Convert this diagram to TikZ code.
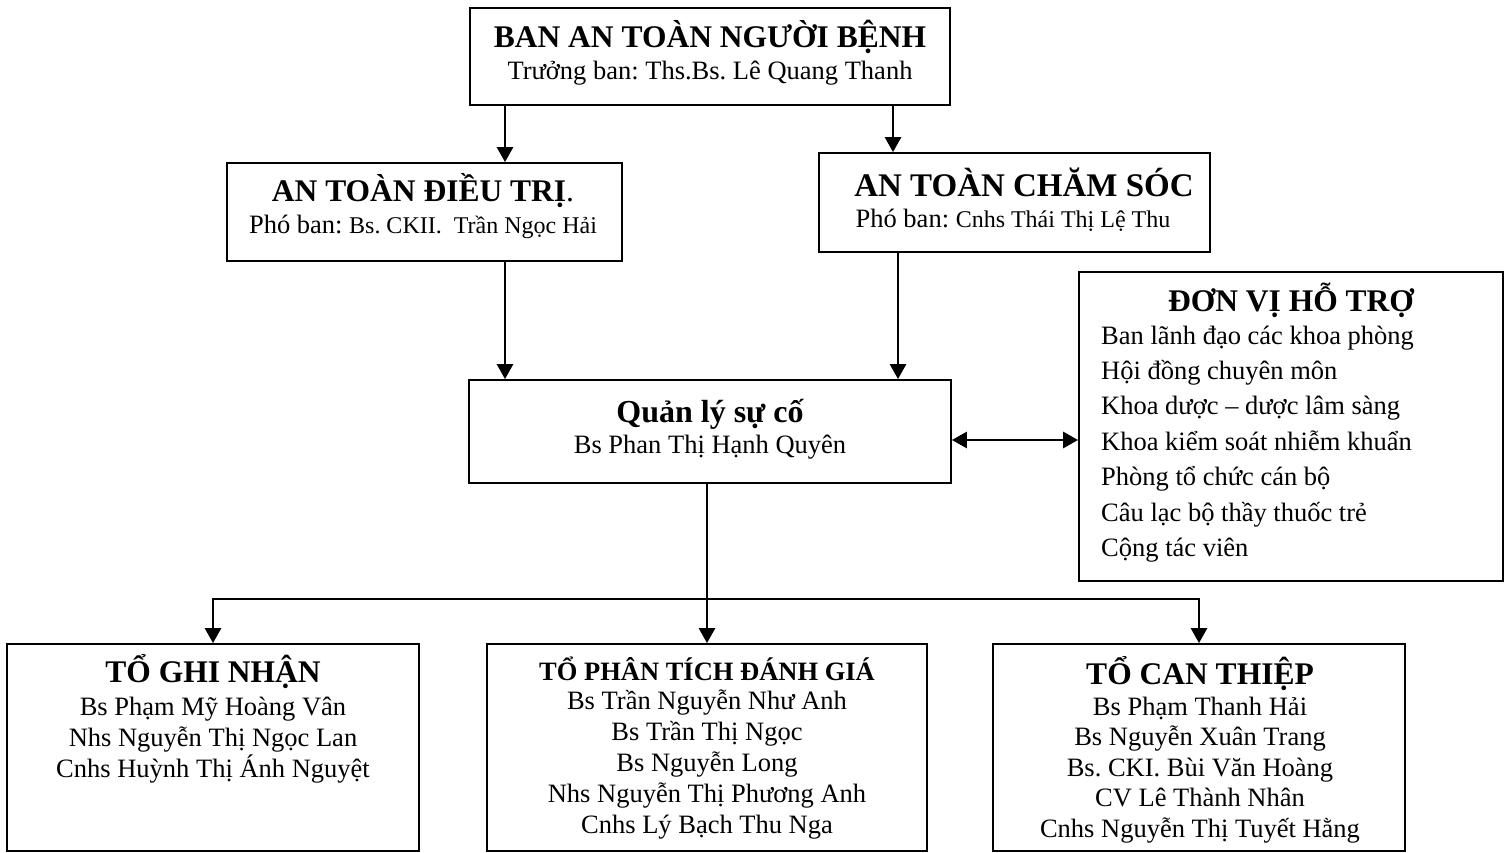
\documentclass[tikz,border=0pt]{standalone}
\usepackage{fontspec}
\setmainfont{Liberation Serif}
\usetikzlibrary{arrows.meta}

\newcommand{\titlefont}{\fontsize{31.5}{36}\selectfont\bfseries}
\newcommand{\namefont}{\fontsize{26.5}{30}\selectfont}
\newcommand{\smallname}{\fontsize{24}{28}\selectfont}
\frenchspacing

\begin{document}
\begin{tikzpicture}[x=1pt,y=-1pt,
  box/.style={draw,line width=1.8pt,inner sep=0pt},
  ttl/.style={anchor=base,inner sep=0pt,font=\titlefont},
  txt/.style={anchor=base,inner sep=0pt,font=\namefont},
  arr/.style={line width=2.8pt,-{Triangle[width=16pt,length=15pt]}},
  dblarr/.style={line width=2.8pt,{Triangle[width=16pt,length=15pt]}-{Triangle[width=16pt,length=15pt]}}]
  \useasboundingbox (0,0) rectangle (1508,853);
  % frames
  \node[box,minimum width=480pt,minimum height=97pt] (ban) at (710,56.5) {};
  \node[box,minimum width=395pt,minimum height=98pt] (dieutri) at (424.5,212) {};
  \node[box,minimum width=391pt,minimum height=99pt] (chamsoc) at (1014.5,202.5) {};
  \node[box,minimum width=482pt,minimum height=103pt] (quanly) at (710,431.5) {};
  \node[box,minimum width=424pt,minimum height=309pt] (hotro) at (1291,426.5) {};
  \node[box,minimum width=412pt,minimum height=207pt] (ghinhan) at (213,747.5) {};
  \node[box,minimum width=440pt,minimum height=207pt] (phantich) at (707,747.5) {};
  \node[box,minimum width=412pt,minimum height=207pt] (canthiep) at (1199,747.5) {};
  % texts
  \node[ttl] (bantitle) at (710,48) {BAN AN TOÀN NGƯỜI BỆNH};
  \node[txt] (bansub) at (710,80) {Trưởng ban: Ths.Bs. Lê Quang Thanh};
  \node[ttl] (dttitle) at (423,202) {AN TOÀN ĐIỀU TRỊ{\mdseries.}};
  \node[txt] (dtsub) at (423,234) {Phó ban: {\smallname Bs. CKII.\ \ Trần Ngọc Hải}};
  \node[ttl,font=\fontsize{33}{38}\selectfont\bfseries] (cstitle) at (1024,197) {AN TOÀN CHĂM SÓC};
  \node[txt] (cssub) at (1013,228) {Phó ban: {\smallname Cnhs Thái Thị Lệ Thu}};
  \node[ttl,font=\fontsize{32}{36}\selectfont\bfseries] (qltitle) at (710,422) {Quản lý sự cố};
  \node[txt] (qlsub) at (710,453) {Bs Phan Thị Hạnh Quyên};
  \node[ttl] (httitle) at (1291,311) {ĐƠN VỊ HỖ TRỢ};
  \foreach \t [count=\i] in {Ban lãnh đạo các khoa phòng,Hội đồng chuyên môn,Khoa dược – dược lâm sàng,Khoa kiểm soát nhiễm khuẩn,Phòng tổ chức cán bộ,Câu lạc bộ thầy thuốc trẻ,Cộng tác viên}
    \node[txt,anchor=base west] (ht\i) at (1101,{344+35.4*(\i-1)}) {\t};
  \node[ttl] (gntitle) at (213,682) {TỔ GHI NHẬN};
  \foreach \t [count=\i] in {Bs Phạm Mỹ Hoàng Vân,Nhs Nguyễn Thị Ngọc Lan,Cnhs Huỳnh Thị Ánh Nguyệt}
    \node[txt] (gn\i) at (213,{715+31*(\i-1)}) {\t};
  \node[ttl,font=\fontsize{26.5}{30}\selectfont\bfseries] (pttitle) at (707,680) {TỔ PHÂN TÍCH ĐÁNH GIÁ};
  \foreach \t [count=\i] in {Bs Trần Nguyễn Như Anh,Bs Trần Thị Ngọc,Bs Nguyễn Long,Nhs Nguyễn Thị Phương Anh,Cnhs Lý Bạch Thu Nga}
    \node[txt] (pt\i) at (707,{709+31*(\i-1)}) {\t};
  \node[ttl] (cttitle) at (1200,684) {TỔ CAN THIỆP};
  \foreach \t [count=\i] in {Bs Phạm Thanh Hải,Bs Nguyễn Xuân Trang,Bs. CKI. Bùi Văn Hoàng,CV Lê Thành Nhân,Cnhs Nguyễn Thị Tuyết Hằng}
    \node[txt] (ct\i) at (1200,{715+30.6*(\i-1)}) {\t};
  % connectors
  \coordinate (lft) at (505,0);
  \coordinate (rgt) at (893,0);
  \coordinate (rgtlow) at (898,0);
  \coordinate (mid) at (0,440);
  \coordinate (bus) at (0,599);
  \draw[arr] (ban.south -| lft) -- (dieutri.north -| lft);
  \draw[arr] (ban.south -| rgt) -- (chamsoc.north -| rgt);
  \draw[arr] (dieutri.south -| lft) -- (quanly.north -| lft);
  \draw[arr] (chamsoc.south -| rgtlow) -- (quanly.north -| rgtlow);
  \draw[dblarr] (quanly.east |- mid) -- (hotro.west |- mid);
  \draw[arr] (quanly.south -| phantich.north) -- (phantich.north);
  \draw[arr] (bus -| phantich.north) -| (ghinhan.north);
  \draw[arr] (bus -| phantich.north) -| (canthiep.north);
\end{tikzpicture}
\end{document}
